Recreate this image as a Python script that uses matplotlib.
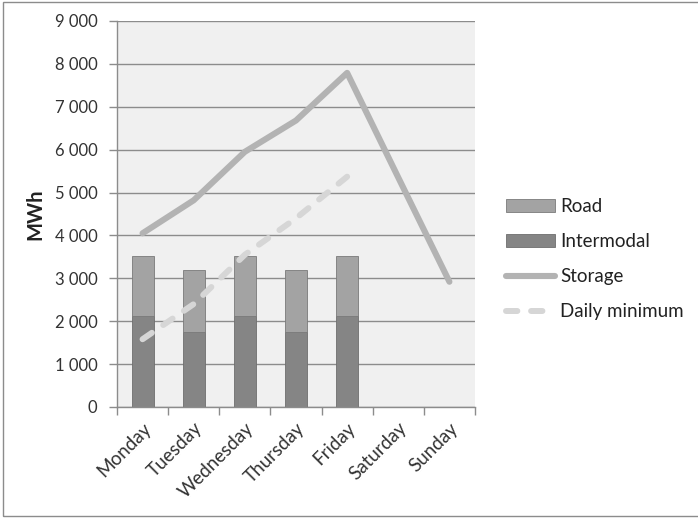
import numpy as np
import matplotlib.pyplot as plt
from matplotlib.patches import Rectangle
from matplotlib.lines import Line2D

plt.rcParams['font.family'] = ['Lato', 'DejaVu Sans']

# data
days = ['Monday', 'Tuesday', 'Wednesday', 'Thursday', 'Friday', 'Saturday', 'Sunday']
intermodal = [2120, 1760, 2120, 1760, 2120]
road = [1400, 1440, 1400, 1440, 1400]
storage = [4050, 4820, 5950, 6680, 7790, 5350, 2920]
daily_min = [1580, 2400, 3550, 4400, 5370]

fig = plt.figure(figsize=(6.98, 5.18), dpi=100)
ax = fig.add_axes([0.1676, 0.2143, 0.5129, 0.7452])
ax.set_facecolor('#f0f0f0')

x = np.arange(len(days))
xb = x[:len(intermodal)]
ax.bar(xb, intermodal, width=0.43, color='#858585', edgecolor='#6e6e6e', linewidth=0.6, zorder=2)
ax.bar(xb, road, width=0.43, bottom=intermodal, color='#a3a3a3', edgecolor='#7a7a7a', linewidth=0.6, zorder=2)
ax.plot(x, storage, color='#b3b3b3', linewidth=4.4, solid_capstyle='round', solid_joinstyle='round', zorder=3)
ax.plot(xb, daily_min, color='#d6d6d6', linewidth=4.3, dashes=(1.9, 2.3), dash_capstyle='round', zorder=3)

ax.set_xlim(-0.5, len(days) - 0.5)
ax.set_ylim(0, 9000)
ax.set_yticks(np.arange(0, 9001, 1000))
ax.set_yticklabels([f'{v:,}'.replace(',', ' ') for v in range(0, 9001, 1000)], fontsize=12, color='#333333')
ax.yaxis.grid(True, color='#8c8c8c', linewidth=1.0, zorder=1)
ax.set_axisbelow(True)

ax.set_xticks(x)
ax.set_xticklabels(days, rotation=45, ha='right', rotation_mode='anchor', fontsize=13.5, color='#333333')
ax.tick_params(axis='x', length=0, pad=9)
ax.set_xticks(np.arange(-0.5, len(days)), minor=True)
ax.tick_params(axis='x', which='minor', length=6, color='#8c8c8c', width=1.0)
ax.tick_params(axis='y', length=6, color='#8c8c8c', width=1.0, pad=8)

for s in ['top', 'right']:
    ax.spines[s].set_visible(False)
for s in ['left', 'bottom']:
    ax.spines[s].set_color('#8c8c8c')
    ax.spines[s].set_linewidth(1.0)

ax.set_ylabel('MWh', fontsize=14.5, fontweight='bold', color='#222222', labelpad=7)

handles = [
    Rectangle((0, 0), 1, 1, facecolor='#a3a3a3', edgecolor='#7a7a7a', linewidth=0.6),
    Rectangle((0, 0), 1, 1, facecolor='#858585', edgecolor='#6e6e6e', linewidth=0.6),
    Line2D([], [], color='#b3b3b3', linewidth=4.4, solid_capstyle='round'),
    Line2D([], [], color='#d6d6d6', linewidth=4.3, dashes=(1.9, 2.3), dash_capstyle='round'),
]
labels = ['Road', 'Intermodal', 'Storage', 'Daily minimum']
fig.legend(handles, labels, loc='upper left', bbox_to_anchor=(0.725, 0.618), frameon=False,
           borderpad=0, borderaxespad=0, fontsize=13.5, labelspacing=0.97, handlelength=2.6,
           handletextpad=0.27, labelcolor='#222222')

# outer border
fig.add_artist(Rectangle((3 / 698, 2 / 518), 1.0, 1 - 4 / 518, transform=fig.transFigure,
                         fill=False, edgecolor='#8c8c8c', linewidth=1.0))

fig.savefig('out.png', dpi=100)
